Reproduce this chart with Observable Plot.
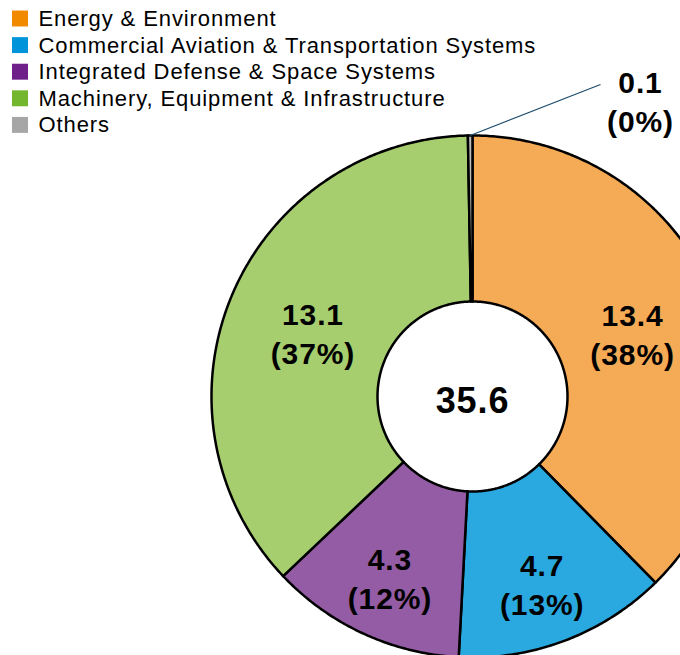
<!DOCTYPE html>
<html><head><meta charset="utf-8">
<script src="https://cdn.jsdelivr.net/npm/d3@7"></script>
<script src="https://cdn.jsdelivr.net/npm/@observablehq/plot@0.6"></script>
<style>
html,body{margin:0;padding:0;background:#fff;overflow:hidden;}
#chart svg{display:block;}
#chart svg text{letter-spacing:0.9px;}
</style></head><body><div id="chart"></div>
<script>
// ---- data ----
const categories = [
  "Energy & Environment",
  "Commercial Aviation & Transportation Systems",
  "Integrated Defense & Space Systems",
  "Machinery, Equipment & Infrastructure",
  "Others"
];
const values = [13.4, 4.7, 4.3, 13.1, 0.1];
const sliceColors = ["#F5AA55", "#29A9E0", "#935CA4", "#A6CE6E", "#BFBFBF"];
const legendColors = ["#F28A00", "#0095DA", "#6E1F8A", "#72B72E", "#A6A6A6"];

// ---- layout (style) ----
const W = 680, H = 655, CX = 472, CY = 396, R = 261;
const INNER = 95 / R;
const FONT = "'Liberation Sans', Arial, Helvetica, sans-serif";
const px = v => (v - CX) / R;
const py = v => (v - CY) / R;

const total = d3.sum(values);
let acc = 0;
const slices = categories.map((name, i) => {
  const a0 = acc / total * 2 * Math.PI;
  acc += values[i];
  const a1 = acc / total * 2 * Math.PI;
  return {name, value: values[i], a0, a1, mid: (a0 + a1) / 2, frac: values[i] / total,
          color: sliceColors[i], pct: Math.round(values[i] / total * 100)};
});
const polar = (a, r) => ({x: r * Math.sin(a), y: -r * Math.cos(a)});

const ring = slices.flatMap(s => {
  const n = Math.max(2, Math.ceil((s.a1 - s.a0) / (Math.PI / 360)));
  const pts = [];
  for (let k = 0; k <= n; k++) pts.push({...polar(s.a0 + (s.a1 - s.a0) * k / n, 1), name: s.name, color: s.color});
  for (let k = n; k >= 0; k--) pts.push({...polar(s.a0 + (s.a1 - s.a0) * k / n, INNER), name: s.name, color: s.color});
  pts.push({...pts[0]});
  return pts;
});

const big = slices.filter(s => s.value >= 1).map(s => {
  const r = s.frac > 0.25 ? 173 / R : 197 / R;
  return {...s, ...polar(s.mid, r)};
});
const small = slices.filter(s => s.value < 1).map(s => {
  const p = polar(s.mid, 1);
  return {...s, x1: p.x, y1: p.y, x2: px(600), y2: py(84), lx: px(640), ly: py(100)};
});
const legend = categories.map((c, i) => ({name: c, color: legendColors[i], i}));

const chart = Plot.plot({
  width: W, height: H,
  margin: 0,
  style: {fontFamily: FONT, background: "#fff", color: "#000"},
  x: {domain: [px(0), px(W)], range: [0, W], axis: null},
  y: {domain: [py(0), py(H)], range: [0, H], axis: null},
  color: {type: "identity"},
  marks: [
    Plot.line(ring, {x: "x", y: "y", z: "name", fill: "color", stroke: "#000", strokeWidth: 2.5, curve: "linear", strokeLinejoin: "round"}),
    Plot.text([total], {x: 0, y: 0, dy: 5, text: d => d.toFixed(1), fontSize: 36, fontWeight: "bold", fill: "#000"}),
    Plot.text(big, {x: "x", y: "y", dy: 2, text: d => `${d.value.toFixed(1)}\n(${d.pct}%)`, fontSize: 30, fontWeight: "bold", lineHeight: 1.3, fill: "#000"}),
    Plot.link(small, {x1: "x1", y1: "y1", x2: "x2", y2: "y2", stroke: "#1F4E6E", strokeWidth: 1.2}),
    Plot.text(small, {x: "lx", y: "ly", text: d => `${d.value.toFixed(1)}\n(${d.pct}%)`, fontSize: 30, fontWeight: "bold", lineHeight: 1.3, fill: "#000"}),
    Plot.dot(legend, {x: px(19.5), y: d => py(18 + d.i * 26.6), symbol: "square", r: 9, fill: "color", stroke: "none"}),
    Plot.text(legend, {x: px(38), y: d => py(18.5 + d.i * 26.6), text: "name", textAnchor: "start", fontSize: 22, fill: "#000"})
  ]
});
document.getElementById("chart").appendChild(chart);
</script>
</body></html>
